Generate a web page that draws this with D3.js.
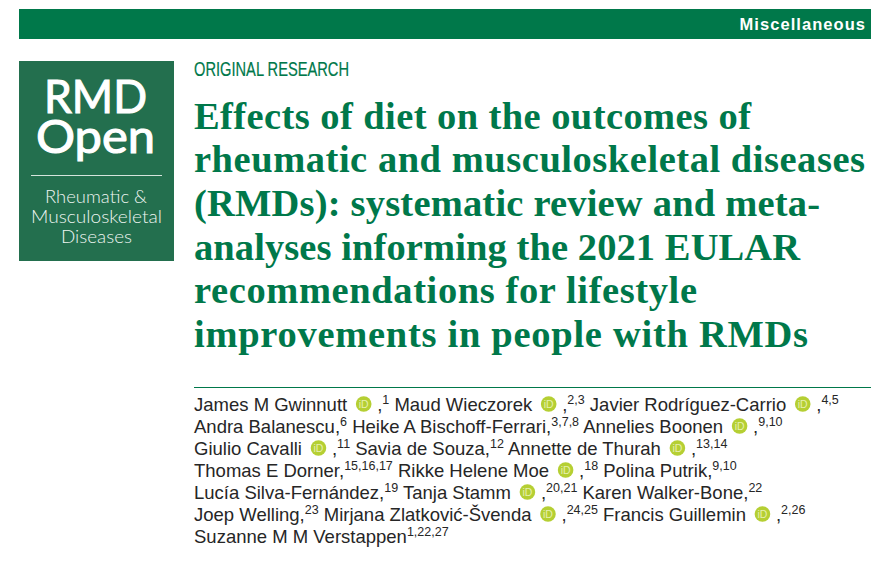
<!DOCTYPE html>
<html><head><meta charset="utf-8">
<script src="https://cdn.jsdelivr.net/npm/d3@7"></script>
<style>html,body{margin:0;padding:0;background:#fff}svg{display:block}</style>
</head><body><div id="c"></div>
<script>
const sectionLabel = "Miscellaneous";
const logoWords = ["RMD", "Open"];
const logoSub = ["Rheumatic &", "Musculoskeletal", "Diseases"];
const articleType = "ORIGINAL RESEARCH";
const titleLines = [
  "Effects of diet on the outcomes of",
  "rheumatic and musculoskeletal diseases",
  "(RMDs): systematic review and meta-",
  "analyses informing the 2021 EULAR",
  "recommendations for lifestyle",
  "improvements in people with RMDs"
];
// tokens: plain text; "#" = ORCID badge; "^x" = superscript
const authorLines = [
  ["James M Gwinnutt","#",",","^1"," Maud Wieczorek","#",",","^2,3"," Javier Rodríguez-Carrio","#",",","^4,5"],
  ["Andra Balanescu,","^6"," Heike A Bischoff-Ferrari,","^3,7,8"," Annelies Boonen","#",",","^9,10"],
  ["Giulio Cavalli","#",",","^11"," Savia de Souza,","^12"," Annette de Thurah","#",",","^13,14"],
  ["Thomas E Dorner,","^15,16,17"," Rikke Helene Moe","#",",","^18"," Polina Putrik,","^9,10"],
  ["Lucía Silva-Fernández,","^19"," Tanja Stamm","#",",","^20,21"," Karen Walker-Bone,","^22"],
  ["Joep Welling,","^23"," Mirjana Zlatković-Švenda","#",",","^24,25"," Francis Guillemin","#",",","^2,26"],
  ["Suzanne M M Verstappen","^1,22,27"]
];
const W=893,H=576,green="#00784a",logoGreen="#236f4e",textCol="#262626",orcid="#b5cf33";
const svg=d3.select("#c").append("svg").attr("width",W).attr("height",H);
const sans="'Liberation Sans',Arial,sans-serif", serif="'Liberation Serif',serif", lato="Lato,'Open Sans',sans-serif";

svg.append("rect").attr("x",19).attr("y",9).attr("width",852).attr("height",30).attr("fill",green);
svg.append("text").attr("x",866).attr("y",30).attr("text-anchor","end").attr("fill","#fff")
  .attr("font-family",sans).attr("font-weight",700).attr("font-size",16.5).attr("letter-spacing",1.05).text(sectionLabel);

svg.append("rect").attr("x",19).attr("y",61).attr("width",155).attr("height",200).attr("fill",logoGreen);
svg.selectAll(".lw").data(logoWords).join("text").attr("class","lw")
  .attr("x",(d,i)=>[44,36][i]).attr("y",(d,i)=>[113,153][i]).attr("fill","#fff")
  .attr("stroke","#fff").attr("stroke-width",1.1)
  .attr("font-family",lato).attr("font-weight",400).attr("font-size",46)
  .attr("textLength",(d,i)=>[103,119][i]).attr("lengthAdjust","spacingAndGlyphs").text(d=>d);
svg.append("line").attr("x1",31).attr("x2",162).attr("y1",175.5).attr("y2",175.5).attr("stroke","#d5e4dc").attr("stroke-width",1);
svg.selectAll(".ls").data(logoSub).join("text").attr("class","ls")
  .attr("x",(d,i)=>[45,31,61][i]).attr("y",(d,i)=>[203,223,243][i]).attr("fill","#eef5f1")
  .attr("font-family",lato).attr("font-weight",300).attr("font-size",18)
  .attr("textLength",(d,i)=>[102,131,71][i]).attr("lengthAdjust","spacingAndGlyphs").text(d=>d);

svg.append("text").attr("x",194).attr("y",76).attr("fill",green).attr("font-family",sans)
  .attr("font-size",20).attr("stroke",green).attr("stroke-width",0.2).attr("textLength",155).attr("lengthAdjust","spacingAndGlyphs").text(articleType);

svg.selectAll(".t").data(titleLines).join("text").attr("class","t")
  .attr("x",194).attr("y",(d,i)=>128.5+i*43.7).attr("fill",green)
  .attr("font-family",serif).attr("font-weight",700).attr("font-size",38.5)
  .attr("textLength",(d,i)=>[557,671,626,606,503,614][i]).attr("lengthAdjust","spacing").text(d=>d);

svg.append("line").attr("x1",194).attr("x2",871).attr("y1",387.5).attr("y2",387.5).attr("stroke",green).attr("stroke-width",1);

const fs=18.5;
authorLines.forEach((toks,li)=>{
  const y=411+li*22; let x=194;
  const g=svg.append("g");
  toks.forEach(tok=>{
    if(tok==="#"){
      x+=9;
      g.append("circle").attr("cx",x+7.5).attr("cy",y-7).attr("r",7.8).attr("fill",orcid);
      g.append("text").attr("x",x+7.5).attr("y",y-3.2).attr("text-anchor","middle").attr("fill","#e6efb0")
        .attr("font-family",sans).attr("font-size",10.5).text("iD");
      x+=15+6;
    } else {
      const sup=tok[0]==="^";
      const t=g.append("text").attr("x",x).attr("y",sup?y-7:y).attr("fill",textCol)
        .attr("font-family",sans).attr("font-size",sup?12.5:fs).attr("xml:space","preserve")
        .style("white-space","pre").text(sup?tok.slice(1):tok);
      x+=t.node().getComputedTextLength();
    }
  });
});
</script></body></html>
